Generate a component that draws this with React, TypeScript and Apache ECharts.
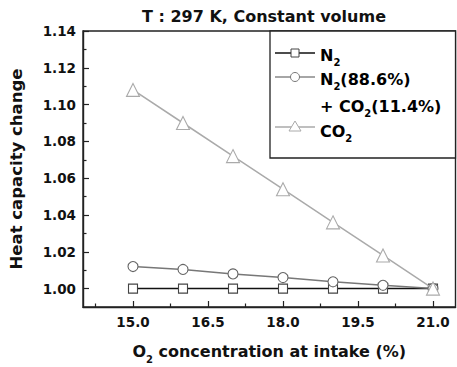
import React, { useEffect, useRef } from "react";
import * as echarts from "echarts";

const o2Values = [15, 16, 17, 18, 19, 20, 21];
const n2Values = [1.0, 1.0, 1.0, 1.0, 1.0, 1.0, 1.0];
const mixValues = [1.012, 1.0104, 1.008, 1.006, 1.0037, 1.0018, 1.0];
const co2Values = [1.108, 1.09, 1.072, 1.054, 1.036, 1.018, 1.0];
const xMajorTicks = [15, 16.5, 18, 19.5, 21];
const xMinorTicks = [14.25, 15.75, 17.25, 18.75, 20.25];
const yMajorTicks = [1.0, 1.02, 1.04, 1.06, 1.08, 1.1, 1.12, 1.14];
const yMinorTicks = [1.01, 1.03, 1.05, 1.07, 1.09, 1.11, 1.13];

const FONT = "DejaVu Sans";

const rich = {
  b: { fontSize: 16, fontWeight: "bold", fontFamily: FONT, color: "#111" },
  s: { fontSize: 10, fontWeight: "bold", fontFamily: FONT, color: "#111", padding: [15, 0, 0, 0] },
};

export default function App() {
  const ref = useRef<HTMLDivElement>(null);
  useEffect(() => {
    const chart = echarts.init(ref.current!, null, { renderer: "svg" });
    const xBase = { type: "value", min: 14, max: 21.45, gridIndex: 0 };
    const yBase = { type: "value", min: 0.99, max: 1.14, gridIndex: 0 };
    const legendY = [53, 77, 127];
    const lx = 275;
    chart.setOption({
      animation: false,
      grid: { left: 83, right: 1.5, top: 31, bottom: 60, show: true, borderColor: "#222", borderWidth: 1.4, backgroundColor: "transparent", containLabel: false, outerBoundsMode: "none" },
      xAxis: [
        {
          ...xBase,
          position: "bottom",
          axisLine: { show: true, onZero: false, lineStyle: { color: "#222", width: 1.4 } },
          axisTick: { show: true, inside: true, length: 6, customValues: xMajorTicks, lineStyle: { color: "#222", width: 1.2 } },
          axisLabel: { show: true, customValues: xMajorTicks, formatter: (v: number) => v.toFixed(1), fontSize: 13.5, fontWeight: "bold", fontFamily: FONT, color: "#111", margin: 8 },
          splitLine: { show: false },
          name: "{b|O}{s|2}{b| concentration at intake (%)}",
          nameLocation: "middle",
          nameGap: 32,
          nameTextStyle: { rich },
        },
        {
          ...xBase,
          position: "bottom",
          axisLine: { show: false, onZero: false },
          axisTick: { show: true, inside: true, length: 3.5, customValues: xMinorTicks, lineStyle: { color: "#222", width: 1.2 } },
          axisLabel: { show: false },
          splitLine: { show: false },
        },
      ],
      yAxis: [
        {
          ...yBase,
          position: "left",
          axisLine: { show: true, onZero: false, lineStyle: { color: "#222", width: 1.4 } },
          axisTick: { show: true, inside: true, length: 6, customValues: yMajorTicks, lineStyle: { color: "#222", width: 1.2 } },
          axisLabel: { show: true, customValues: yMajorTicks, formatter: (v: number) => v.toFixed(2), fontSize: 13.5, fontWeight: "bold", fontFamily: FONT, color: "#111", margin: 7 },
          splitLine: { show: false },
          name: "Heat capacity change",
          nameLocation: "middle",
          nameGap: 58,
          nameTextStyle: { fontSize: 16.5, fontWeight: "bold", fontFamily: FONT, color: "#111" },
        },
        {
          ...yBase,
          position: "left",
          axisLine: { show: false, onZero: false },
          axisTick: { show: true, inside: true, length: 3.5, customValues: yMinorTicks, lineStyle: { color: "#222", width: 1.2 } },
          axisLabel: { show: false },
          splitLine: { show: false },
        },
      ],
      series: [
        {
          name: "N2",
          type: "line",
          data: o2Values.map((x, i) => [x, n2Values[i]]),
          symbol: "rect",
          symbolSize: 9,
          lineStyle: { color: "#111", width: 1.5 },
          itemStyle: { color: "#fff", borderColor: "#444", borderWidth: 1.1 },
          z: 2,
        },
        {
          name: "mix",
          type: "line",
          data: o2Values.map((x, i) => [x, mixValues[i]]),
          symbol: "circle",
          symbolSize: 10,
          lineStyle: { color: "#777", width: 1.5 },
          itemStyle: { color: "#fff", borderColor: "#666", borderWidth: 1.1 },
          z: 3,
        },
        {
          name: "CO2",
          type: "line",
          data: o2Values.map((x, i) => [x, co2Values[i]]),
          symbol: "triangle",
          symbolSize: 13,
          lineStyle: { color: "#aaa", width: 1.5 },
          itemStyle: { color: "#fff", borderColor: "#aaa", borderWidth: 1.1 },
          z: 4,
        },
      ],
      graphic: [
        {
          type: "text",
          x: 264,
          y: 16,
          style: { text: "T : 297 K, Constant volume", fontSize: 16, fontWeight: "bold", fontFamily: FONT, fill: "#111", align: "center", verticalAlign: "middle" },
        },
        {
          type: "rect",
          shape: { x: 270, y: 31, width: 185.5, height: 127 },
          style: { fill: "#fff", stroke: "#222", lineWidth: 1.3 },
          z: 10,
        },
        { type: "line", shape: { x1: lx, y1: legendY[0], x2: lx + 40, y2: legendY[0] }, style: { stroke: "#111", lineWidth: 1.5 }, z: 11 },
        { type: "rect", shape: { x: lx + 16, y: legendY[0] - 4, width: 8, height: 8 }, style: { fill: "#fff", stroke: "#444", lineWidth: 1 }, z: 12 },
        { type: "line", shape: { x1: lx, y1: legendY[1], x2: lx + 40, y2: legendY[1] }, style: { stroke: "#888", lineWidth: 1.5 }, z: 11 },
        { type: "circle", shape: { cx: lx + 20, cy: legendY[1], r: 4.5 }, style: { fill: "#fff", stroke: "#777", lineWidth: 1 }, z: 12 },
        { type: "line", shape: { x1: lx, y1: legendY[2], x2: lx + 40, y2: legendY[2] }, style: { stroke: "#aaa", lineWidth: 1.5 }, z: 11 },
        { type: "polygon", shape: { points: [[lx + 20, legendY[2] - 6], [lx + 26, legendY[2] + 4], [lx + 14, legendY[2] + 4]] }, style: { fill: "#fff", stroke: "#aaa", lineWidth: 1 }, z: 12 },
        { type: "text", x: 320, y: legendY[0] + 2, style: { text: "{b|N}{s|2}", rich, verticalAlign: "middle" }, z: 12 },
        { type: "text", x: 320, y: legendY[1] + 2, style: { text: "{b|N}{s|2}{b|(88.6%)}", rich, verticalAlign: "middle" }, z: 12 },
        { type: "text", x: 320, y: 106, style: { text: "{b|+ CO}{s|2}{b|(11.4%)}", rich, verticalAlign: "middle" }, z: 12 },
        { type: "text", x: 320, y: legendY[2] + 4, style: { text: "{b|CO}{s|2}", rich, verticalAlign: "middle" }, z: 12 },
      ],
    });
    return () => chart.dispose();
  }, []);
  return <div ref={ref} style={{ position: "absolute", left: 0, top: 0, width: 457, height: 367, background: "#fff" }} />;
}
